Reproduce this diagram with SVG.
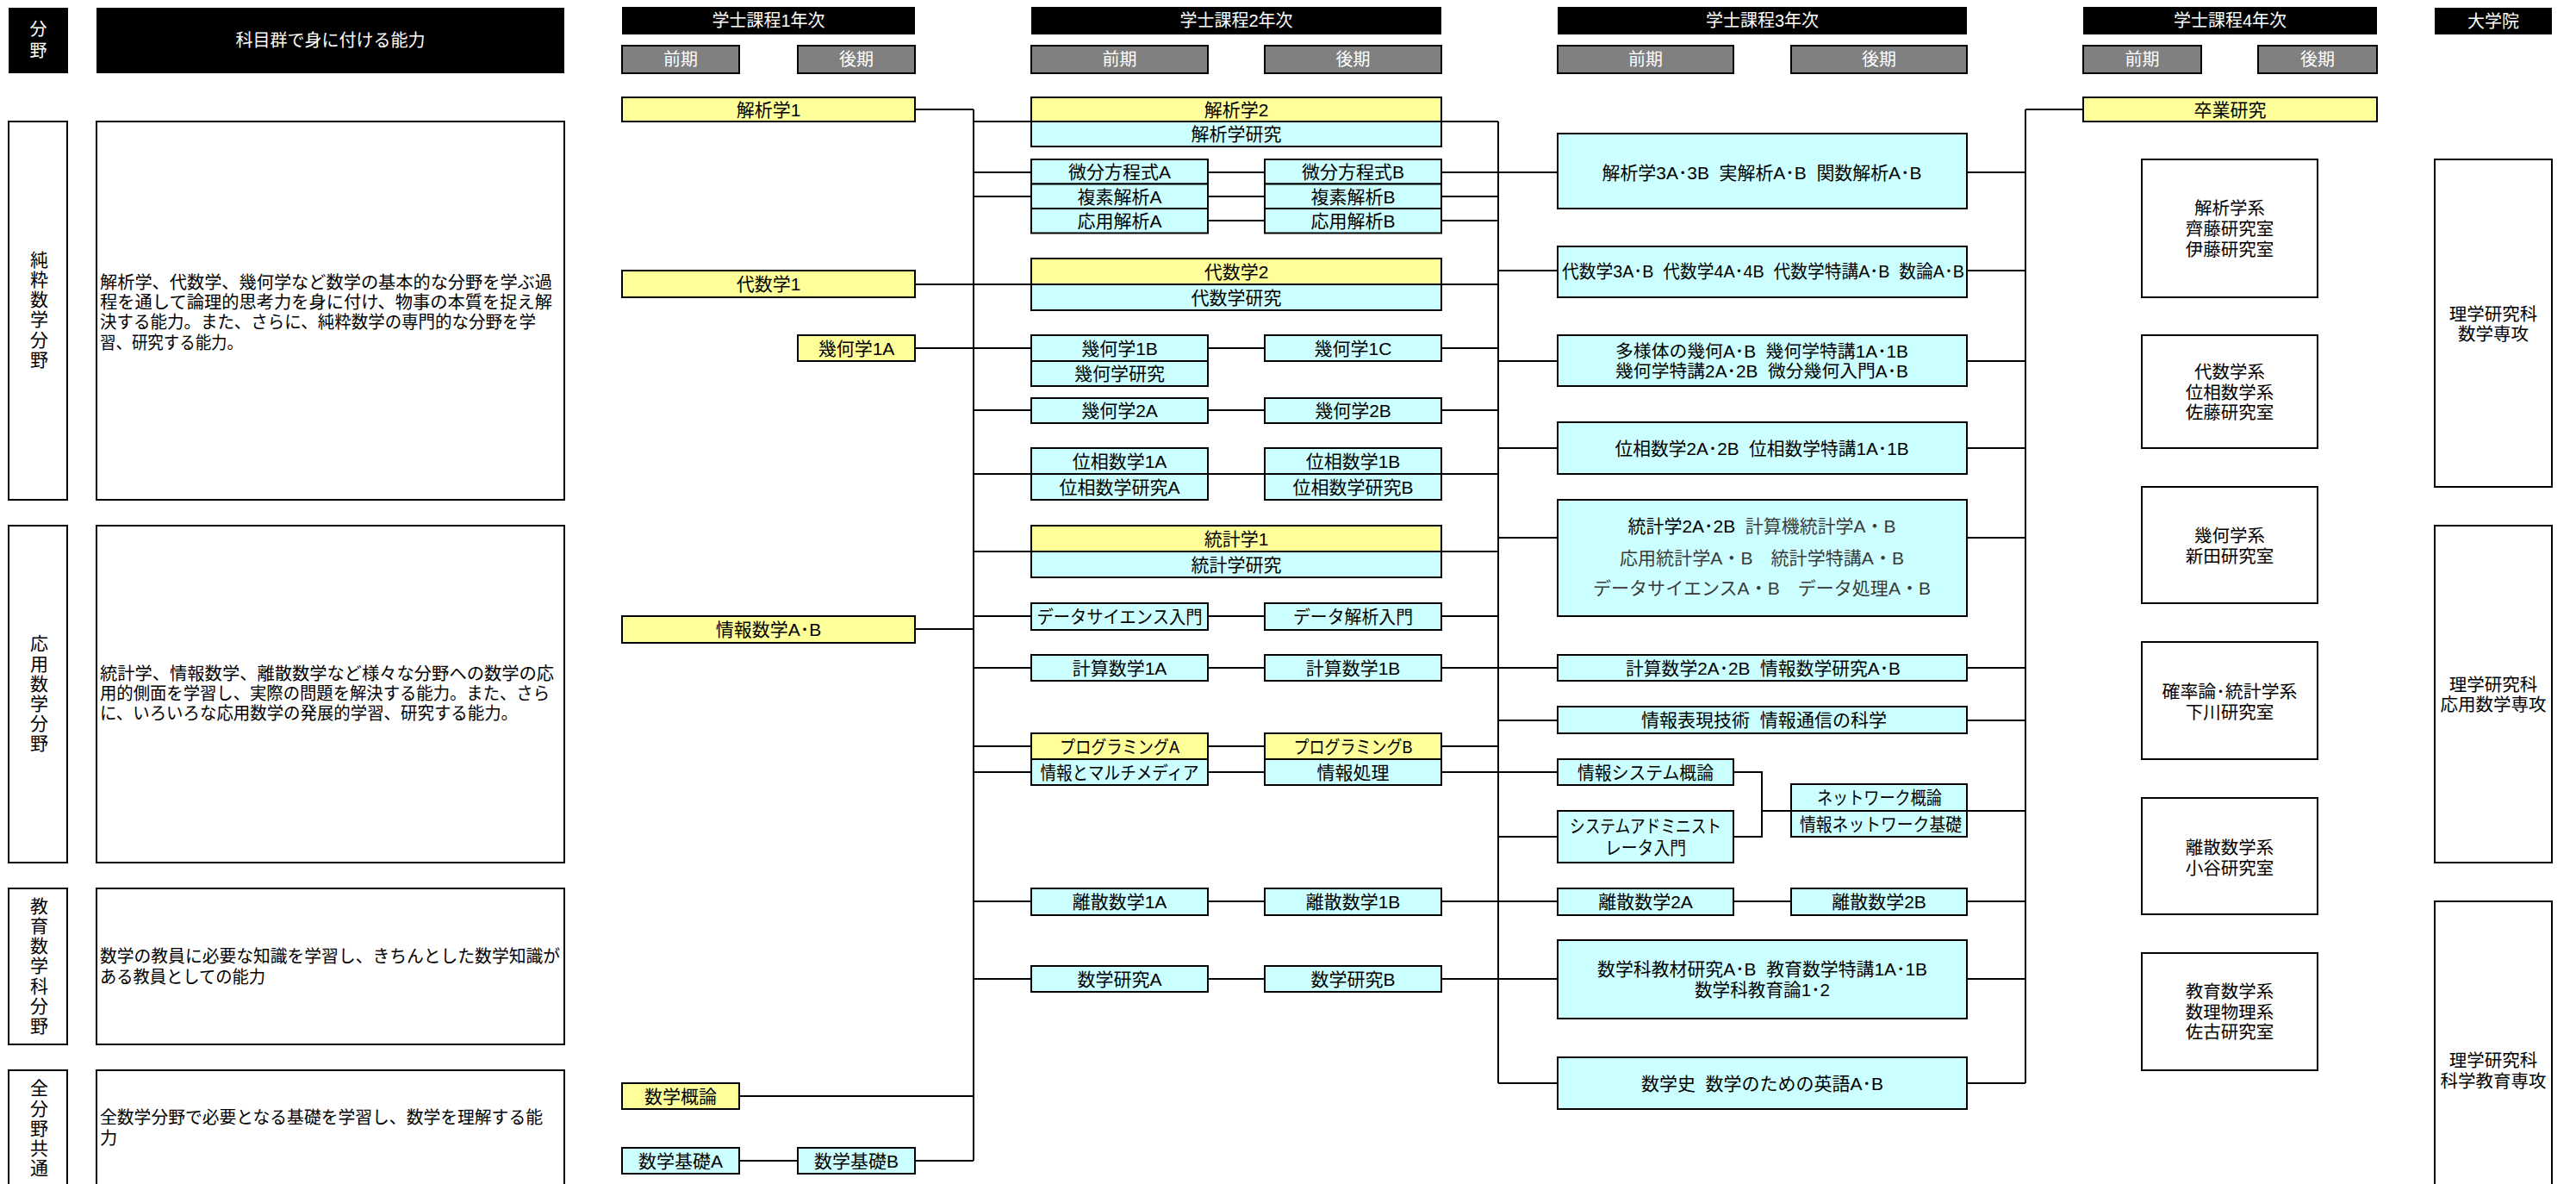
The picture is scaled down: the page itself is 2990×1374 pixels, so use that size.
<svg xmlns="http://www.w3.org/2000/svg" width="2990" height="1374" viewBox="0 0 2990 1374">
<style>
.b{stroke:#000;stroke-width:2}
.y{fill:#FFFF99}
.c{fill:#CCFFFF}
.w{fill:#fff}
.gr{fill:#808080}
.k{fill:#000}
text{font-family:"Liberation Sans","Noto Sans CJK JP",sans-serif;font-size:21px;fill:#000;dominant-baseline:central}
.m{text-anchor:middle}
.wt{fill:#fff}
.s20{font-size:20px}
.d{font-size:20.2px}
.l{font-size:20.5px}
.v{writing-mode:vertical-rl;text-anchor:middle;letter-spacing:2.2px}
.lt{fill:#3a3a3a}
.pre{white-space:pre}
#conn path{stroke:#000;stroke-width:2;fill:none}
</style>
<rect width="2990" height="1374" fill="#fff"/>

<!-- header row -->
<g id="h-field"><rect class="k" x="10" y="9" width="69" height="76"/><text class="m wt s20"><tspan x="44.5" y="34">分</tspan><tspan x="44.5" y="59">野</tspan></text></g>
<g id="h-ability"><rect class="k" x="112" y="9" width="543" height="76"/><text class="m wt s20" x="383.5" y="47">科目群で身に付ける能力</text></g>
<g id="h-y1"><rect class="k" x="722" y="8" width="340" height="32"/><text class="m wt s20" x="892" y="24">学士課程1年次</text></g>
<g id="h-y2"><rect class="k" x="1197" y="8" width="476" height="32"/><text class="m wt s20" x="1435" y="24">学士課程2年次</text></g>
<g id="h-y3"><rect class="k" x="1808" y="8" width="475" height="32"/><text class="m wt s20" x="2045.5" y="24">学士課程3年次</text></g>
<g id="h-y4"><rect class="k" x="2418" y="8" width="341" height="32"/><text class="m wt s20" x="2588.5" y="24">学士課程4年次</text></g>
<g id="h-grad"><rect class="k" x="2826" y="9" width="136" height="31"/><text class="m wt s20" x="2894" y="24.5">大学院</text></g>

<g id="sem-1a"><rect class="gr b" x="722" y="53" width="136" height="32"/><text class="m wt s20" x="790" y="69">前期</text></g>
<g id="sem-1b"><rect class="gr b" x="926" y="53" width="136" height="32"/><text class="m wt s20" x="994" y="69">後期</text></g>
<g id="sem-2a"><rect class="gr b" x="1197" y="53" width="205" height="32"/><text class="m wt s20" x="1299.5" y="69">前期</text></g>
<g id="sem-2b"><rect class="gr b" x="1468" y="53" width="205" height="32"/><text class="m wt s20" x="1570.5" y="69">後期</text></g>
<g id="sem-3a"><rect class="gr b" x="1808" y="53" width="204" height="32"/><text class="m wt s20" x="1910" y="69">前期</text></g>
<g id="sem-3b"><rect class="gr b" x="2079" y="53" width="204" height="32"/><text class="m wt s20" x="2181" y="69">後期</text></g>
<g id="sem-4a"><rect class="gr b" x="2418" y="53" width="137" height="32"/><text class="m wt s20" x="2486.5" y="69">前期</text></g>
<g id="sem-4b"><rect class="gr b" x="2621" y="53" width="138" height="32"/><text class="m wt s20" x="2690" y="69">後期</text></g>

<!-- field rows -->
<g id="f-pure"><rect class="w b" x="10" y="141" width="68" height="439"/>
<text class="v" x="44" y="360">純粋数学分野</text></g>
<g id="d-pure"><rect class="w b" x="112" y="141" width="543" height="439"/>
<text class="d" x="116" y="328" textLength="525" lengthAdjust="spacingAndGlyphs">解析学、代数学、幾何学など数学の基本的な分野を学ぶ過</text>
<text class="d" x="116" y="351.2" textLength="525" lengthAdjust="spacingAndGlyphs">程を通して論理的思考力を身に付け、物事の本質を捉え解</text>
<text class="d" x="116" y="374.4" textLength="506" lengthAdjust="spacingAndGlyphs">決する能力。また、さらに、純粋数学の専門的な分野を学</text>
<text class="d" x="116" y="397.6" textLength="166" lengthAdjust="spacingAndGlyphs">習、研究する能力。</text></g>

<g id="f-applied"><rect class="w b" x="10" y="610" width="68" height="391"/>
<text class="v" x="44" y="805.5">応用数学分野</text></g>
<g id="d-applied"><rect class="w b" x="112" y="610" width="543" height="391"/>
<text class="d" x="116" y="782" textLength="527" lengthAdjust="spacingAndGlyphs">統計学、情報数学、離散数学など様々な分野への数学の応</text>
<text class="d" x="116" y="805" textLength="522" lengthAdjust="spacingAndGlyphs">用的側面を学習し、実際の問題を解決する能力。また、さら</text>
<text class="d" x="116" y="828" textLength="485" lengthAdjust="spacingAndGlyphs">に、いろいろな応用数学の発展的学習、研究する能力。</text></g>

<g id="f-edu"><rect class="w b" x="10" y="1031" width="68" height="181"/>
<text class="v" x="44" y="1121.5">教育数学科分野</text></g>
<g id="d-edu"><rect class="w b" x="112" y="1031" width="543" height="181"/>
<text class="d" x="116" y="1110" textLength="534" lengthAdjust="spacingAndGlyphs">数学の教員に必要な知識を学習し、きちんとした数学知識が</text>
<text class="d" x="116" y="1133.5" textLength="192" lengthAdjust="spacingAndGlyphs">ある教員としての能力</text></g>

<g id="f-common"><rect class="w b" x="10" y="1242" width="68" height="150"/>
<text class="v" x="44" y="1310">全分野共通</text></g>
<g id="d-common"><rect class="w b" x="112" y="1242" width="543" height="150"/>
<text class="d" x="116" y="1297" textLength="514" lengthAdjust="spacingAndGlyphs">全数学分野で必要となる基礎を学習し、数学を理解する能</text>
<text class="d" x="116" y="1321">力</text></g>

<!-- connectors -->
<g id="conn">
<path d="M1130 127V1347 M1062 127H1130 M1130 141H1197 M1130 200H1197 M1130 228H1197 M1062 330H1197 M1062 404H1197 M1130 476H1197 M1130 550H1197 M1130 640H1197 M1130 715H1197 M1062 730H1130 M1130 775H1197 M1130 866H1197 M1130 896H1197 M1130 1046H1197 M1130 1136H1197 M858 1272H1130 M858 1347H926 M1062 1347H1130"/>
<path d="M1402 200H1468 M1402 228H1468 M1402 256H1468 M1402 404H1468 M1402 476H1468 M1402 550H1468 M1402 715H1468 M1402 775H1468 M1402 866H1468 M1402 896H1468 M1402 1046H1468 M1402 1136H1468"/>
<path d="M1739 141V1257 M1673 141H1739 M1673 200H1739 M1673 228H1739 M1673 256H1739 M1673 330H1739 M1673 404H1739 M1673 476H1739 M1673 550H1739 M1673 640H1739 M1673 715H1739 M1673 775H1739 M1673 866H1739 M1673 896H1739 M1673 1046H1739 M1673 1136H1739"/>
<path d="M1739 200H1808 M1739 314H1808 M1739 419H1808 M1739 520H1808 M1739 624H1808 M1739 775H1808 M1739 836H1808 M1739 896H1808 M1739 971H1808 M1739 1046H1808 M1739 1136H1808 M1739 1257H1808"/>
<path d="M2012 896H2045V971H2012 M2045 941H2079 M2012 1046H2079"/>
<path d="M2351 127V1257 M2351 127H2418 M2283 200H2351 M2283 314H2351 M2283 419H2351 M2283 520H2351 M2283 624H2351 M2283 775H2351 M2283 836H2351 M2283 941H2351 M2283 1046H2351 M2283 1136H2351 M2283 1257H2351"/>
</g>

<!-- year 1 -->
<g id="n-kaiseki1"><rect class="y b" x="722" y="113" width="340" height="28"/><text class="m" x="892" y="127">解析学1</text></g>
<g id="n-daisu1"><rect class="y b" x="722" y="314" width="340" height="31"/><text class="m" x="892" y="329.5">代数学1</text></g>
<g id="n-kika1a"><rect class="y b" x="926" y="389" width="136" height="30"/><text class="m" x="994" y="404">幾何学1A</text></g>
<g id="n-johosugaku"><rect class="y b" x="722" y="715" width="340" height="31"/><text class="m" x="892" y="730.5">情報数学A･B</text></g>
<g id="n-sugakugairon"><rect class="y b" x="722" y="1257" width="136" height="30"/><text class="m" x="790" y="1272">数学概論</text></g>
<g id="n-kisoA"><rect class="c b" x="722" y="1332" width="136" height="30"/><text class="m" x="790" y="1347">数学基礎A</text></g>
<g id="n-kisoB"><rect class="c b" x="926" y="1332" width="136" height="30"/><text class="m" x="994" y="1347">数学基礎B</text></g>

<!-- year 2 -->
<g id="n-kaiseki2"><rect class="y b" x="1197" y="113" width="476" height="28"/><text class="m" x="1435" y="127">解析学2</text>
<rect class="c b" x="1197" y="141" width="476" height="29"/><text class="m" x="1435" y="155.5">解析学研究</text></g>
<g id="n-bibunA"><rect class="c b" x="1197" y="185" width="205" height="28.5"/><text class="m" x="1299.5" y="199.5">微分方程式A</text>
<rect class="c b" x="1197" y="213.5" width="205" height="28.5"/><text class="m" x="1299.5" y="228">複素解析A</text>
<rect class="c b" x="1197" y="242" width="205" height="28.5"/><text class="m" x="1299.5" y="256.5">応用解析A</text></g>
<g id="n-bibunB"><rect class="c b" x="1468" y="185" width="205" height="28.5"/><text class="m" x="1570.5" y="199.5">微分方程式B</text>
<rect class="c b" x="1468" y="213.5" width="205" height="28.5"/><text class="m" x="1570.5" y="228">複素解析B</text>
<rect class="c b" x="1468" y="242" width="205" height="28.5"/><text class="m" x="1570.5" y="256.5">応用解析B</text></g>
<g id="n-daisu2"><rect class="y b" x="1197" y="300" width="476" height="30"/><text class="m" x="1435" y="315">代数学2</text>
<rect class="c b" x="1197" y="330" width="476" height="30"/><text class="m" x="1435" y="345">代数学研究</text></g>
<g id="n-kika1b"><rect class="c b" x="1197" y="389" width="205" height="30"/><text class="m" x="1299.5" y="404">幾何学1B</text>
<rect class="c b" x="1197" y="419" width="205" height="29"/><text class="m" x="1299.5" y="433.5">幾何学研究</text></g>
<g id="n-kika1c"><rect class="c b" x="1468" y="389" width="205" height="30"/><text class="m" x="1570.5" y="404">幾何学1C</text></g>
<g id="n-kika2a"><rect class="c b" x="1197" y="462" width="205" height="29"/><text class="m" x="1299.5" y="476.5">幾何学2A</text></g>
<g id="n-kika2b"><rect class="c b" x="1468" y="462" width="205" height="29"/><text class="m" x="1570.5" y="476.5">幾何学2B</text></g>
<g id="n-iso1a"><rect class="c b" x="1197" y="520" width="205" height="30"/><text class="m" x="1299.5" y="535">位相数学1A</text>
<rect class="c b" x="1197" y="550" width="205" height="30"/><text class="m" x="1299.5" y="565">位相数学研究A</text></g>
<g id="n-iso1b"><rect class="c b" x="1468" y="520" width="205" height="30"/><text class="m" x="1570.5" y="535">位相数学1B</text>
<rect class="c b" x="1468" y="550" width="205" height="30"/><text class="m" x="1570.5" y="565">位相数学研究B</text></g>
<g id="n-tokei1"><rect class="y b" x="1197" y="610" width="476" height="30"/><text class="m" x="1435" y="625">統計学1</text>
<rect class="c b" x="1197" y="640" width="476" height="30"/><text class="m" x="1435" y="655">統計学研究</text></g>
<g id="n-ds"><rect class="c b" x="1197" y="700" width="205" height="31"/><text class="m" x="1299.5" y="715.5" textLength="192" lengthAdjust="spacingAndGlyphs">データサイエンス入門</text></g>
<g id="n-data"><rect class="c b" x="1468" y="700" width="205" height="31"/><text class="m" x="1570.5" y="715.5" textLength="139" lengthAdjust="spacingAndGlyphs">データ解析入門</text></g>
<g id="n-keisan1a"><rect class="c b" x="1197" y="760" width="205" height="30"/><text class="m" x="1299.5" y="775">計算数学1A</text></g>
<g id="n-keisan1b"><rect class="c b" x="1468" y="760" width="205" height="30"/><text class="m" x="1570.5" y="775">計算数学1B</text></g>
<g id="n-progA"><rect class="y b" x="1197" y="851" width="205" height="30"/><text class="m" x="1299.5" y="866" textLength="139" lengthAdjust="spacingAndGlyphs">プログラミングA</text>
<rect class="c b" x="1197" y="881" width="205" height="30"/><text class="m" x="1299.5" y="896" textLength="184" lengthAdjust="spacingAndGlyphs">情報とマルチメディア</text></g>
<g id="n-progB"><rect class="y b" x="1468" y="851" width="205" height="30"/><text class="m" x="1570.5" y="866" textLength="138" lengthAdjust="spacingAndGlyphs">プログラミングB</text>
<rect class="c b" x="1468" y="881" width="205" height="30"/><text class="m" x="1570.5" y="896">情報処理</text></g>
<g id="n-risan1a"><rect class="c b" x="1197" y="1031" width="205" height="31"/><text class="m" x="1299.5" y="1046.5">離散数学1A</text></g>
<g id="n-risan1b"><rect class="c b" x="1468" y="1031" width="205" height="31"/><text class="m" x="1570.5" y="1046.5">離散数学1B</text></g>
<g id="n-kenkyuA"><rect class="c b" x="1197" y="1121" width="205" height="30"/><text class="m" x="1299.5" y="1136">数学研究A</text></g>
<g id="n-kenkyuB"><rect class="c b" x="1468" y="1121" width="205" height="30"/><text class="m" x="1570.5" y="1136">数学研究B</text></g>

<!-- year 3 -->
<g id="n-y3-kaiseki"><rect class="c b" x="1808" y="155" width="475" height="87"/><text class="m pre" x="2045" y="200" textLength="371" lengthAdjust="spacingAndGlyphs">解析学3A･3B  実解析A･B  関数解析A･B</text></g>
<g id="n-y3-daisu"><rect class="c b" x="1808" y="286" width="475" height="59"/><text class="m pre" x="2046.5" y="314.5" textLength="467" lengthAdjust="spacingAndGlyphs">代数学3A･B  代数学4A･4B  代数学特講A･B  数論A･B</text></g>
<g id="n-y3-kika"><rect class="c b" x="1808" y="389" width="475" height="59"/><text class="m pre l" x="2045" y="407" textLength="340" lengthAdjust="spacingAndGlyphs">多様体の幾何A･B  幾何学特講1A･1B</text><text class="m pre l" x="2045" y="430.5" textLength="340" lengthAdjust="spacingAndGlyphs">幾何学特講2A･2B  微分幾何入門A･B</text></g>
<g id="n-y3-iso"><rect class="c b" x="1808" y="490" width="475" height="60"/><text class="m pre" x="2045" y="520" textLength="341" lengthAdjust="spacingAndGlyphs">位相数学2A･2B  位相数学特講1A･1B</text></g>
<g id="n-y3-tokei"><rect class="c b" x="1808" y="580" width="475" height="135"/>
<text class="m pre" x="2045" y="610" textLength="311" lengthAdjust="spacingAndGlyphs">統計学2A･2B  <tspan class="lt">計算機統計学A・B</tspan></text>
<text class="m pre lt" x="2045" y="647" textLength="330" lengthAdjust="spacingAndGlyphs">応用統計学A・B　統計学特講A・B</text>
<text class="m pre lt" x="2045" y="682" textLength="392" lengthAdjust="spacingAndGlyphs">データサイエンスA・B　データ処理A・B</text></g>
<g id="n-y3-keisan"><rect class="c b" x="1808" y="760" width="475" height="30"/><text class="m pre" x="2046.5" y="775" textLength="319" lengthAdjust="spacingAndGlyphs">計算数学2A･2B  情報数学研究A･B</text></g>
<g id="n-y3-hyogen"><rect class="c b" x="1808" y="820" width="475" height="31"/><text class="m pre" x="2047.5" y="835.5" textLength="285" lengthAdjust="spacingAndGlyphs">情報表現技術  情報通信の科学</text></g>
<g id="n-y3-system"><rect class="c b" x="1808" y="881" width="204" height="30"/><text class="m" x="1910" y="896" textLength="158" lengthAdjust="spacingAndGlyphs">情報システム概論</text></g>
<g id="n-y3-sysad"><rect class="c b" x="1808" y="941" width="204" height="60"/><text class="m" x="1910" y="958.5" textLength="176" lengthAdjust="spacingAndGlyphs">システムアドミニスト</text><text class="m" x="1910" y="983.5" textLength="94" lengthAdjust="spacingAndGlyphs">レータ入門</text></g>
<g id="n-y3-network"><rect class="c b" x="2079" y="910" width="204" height="31"/><text class="m" x="2181.5" y="925.5" textLength="145" lengthAdjust="spacingAndGlyphs">ネットワーク概論</text>
<rect class="c b" x="2079" y="941" width="204" height="30"/><text class="m" x="2183" y="956" textLength="188" lengthAdjust="spacingAndGlyphs">情報ネットワーク基礎</text></g>
<g id="n-y3-risan2a"><rect class="c b" x="1808" y="1031" width="204" height="31"/><text class="m" x="1910" y="1046.5">離散数学2A</text></g>
<g id="n-y3-risan2b"><rect class="c b" x="2079" y="1031" width="204" height="31"/><text class="m" x="2181" y="1046.5">離散数学2B</text></g>
<g id="n-y3-kyoiku"><rect class="c b" x="1808" y="1091" width="475" height="91"/><text class="m pre" x="2045.5" y="1124" textLength="383" lengthAdjust="spacingAndGlyphs">数学科教材研究A･B  教育数学特講1A･1B</text><text class="m" x="2045.5" y="1148.5" textLength="157" lengthAdjust="spacingAndGlyphs">数学科教育論1･2</text></g>
<g id="n-y3-shi"><rect class="c b" x="1808" y="1227" width="475" height="60"/><text class="m pre" x="2045.5" y="1257" textLength="281" lengthAdjust="spacingAndGlyphs">数学史  数学のための英語A･B</text></g>

<!-- year 4 -->
<g id="n-sotsuken"><rect class="y b" x="2418" y="113" width="341" height="28"/><text class="m" x="2588.5" y="127">卒業研究</text></g>
<g id="lab-kaiseki"><rect class="w b" x="2486" y="185" width="204" height="160"/><text class="m l"><tspan x="2588" y="241">解析学系</tspan><tspan x="2588" y="265">齊藤研究室</tspan><tspan x="2588" y="289">伊藤研究室</tspan></text></g>
<g id="lab-daisu"><rect class="w b" x="2486" y="389" width="204" height="131"/><text class="m l"><tspan x="2588" y="431">代数学系</tspan><tspan x="2588" y="454.5">位相数学系</tspan><tspan x="2588" y="478">佐藤研究室</tspan></text></g>
<g id="lab-kika"><rect class="w b" x="2486" y="565" width="204" height="135"/><text class="m l"><tspan x="2588" y="621">幾何学系</tspan><tspan x="2588" y="644.5">新田研究室</tspan></text></g>
<g id="lab-kakuritsu"><rect class="w b" x="2486" y="745" width="204" height="136"/><text class="m l"><tspan x="2588" y="802" textLength="157" lengthAdjust="spacingAndGlyphs">確率論･統計学系</tspan><tspan x="2588" y="825.5">下川研究室</tspan></text></g>
<g id="lab-risan"><rect class="w b" x="2486" y="926" width="204" height="135"/><text class="m l"><tspan x="2588" y="983">離散数学系</tspan><tspan x="2588" y="1006.5">小谷研究室</tspan></text></g>
<g id="lab-kyoiku"><rect class="w b" x="2486" y="1106" width="204" height="136"/><text class="m l"><tspan x="2588" y="1150">教育数学系</tspan><tspan x="2588" y="1173.5">数理物理系</tspan><tspan x="2588" y="1197">佐古研究室</tspan></text></g>

<!-- graduate -->
<g id="g-math"><rect class="w b" x="2826" y="185" width="136" height="380"/><text class="m l"><tspan x="2894" y="363.5">理学研究科</tspan><tspan x="2894" y="387">数学専攻</tspan></text></g>
<g id="g-applied"><rect class="w b" x="2826" y="610" width="136" height="391"/><text class="m l"><tspan x="2894" y="793.5">理学研究科</tspan><tspan x="2894" y="817">応用数学専攻</tspan></text></g>
<g id="g-edu"><rect class="w b" x="2826" y="1046" width="136" height="350"/><text class="m l"><tspan x="2894" y="1230">理学研究科</tspan><tspan x="2894" y="1253.5">科学教育専攻</tspan></text></g>
</svg>
